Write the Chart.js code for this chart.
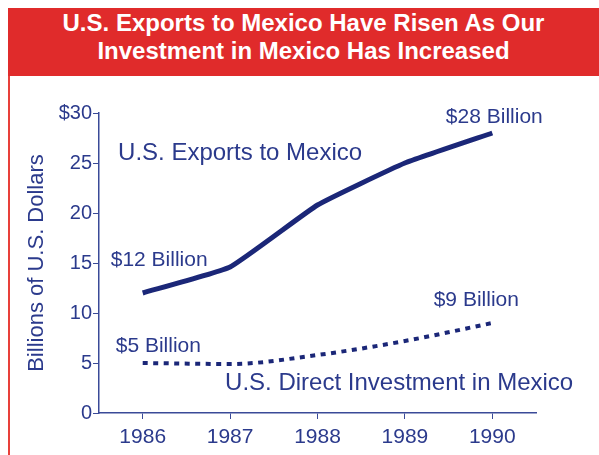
<!DOCTYPE html>
<html>
<head>
<meta charset="utf-8">
<script src="https://cdn.jsdelivr.net/npm/chart.js@4"></script>
<style>
    html, body { margin: 0; padding: 0; background: #ffffff; }
    #wrap { position: relative; width: 599px; height: 455px; overflow: hidden; }
    #header {
        position: absolute; left: 8px; top: 8px; width: 591px; height: 68px;
        background: #e02b2b; color: #ffffff;
        font-family: "Liberation Sans", Arial, sans-serif; font-weight: bold;
        font-size: 24px; line-height: 28px; text-align: center;
        padding-top: 1px; box-sizing: border-box;
    }
    #frame {
        position: absolute; left: 8px; top: 76px; width: 2px; height: 379px;
        background: #e8403a;
    }
    #chart { position: absolute; left: 0; top: 0; }
</style>
</head>
<body>
<div id="wrap">
    <div id="header">U.S. Exports to Mexico Have Risen As Our<br>Investment in Mexico Has Increased</div>
    <div id="frame"></div>
    <canvas id="chart" width="599" height="455"></canvas>
</div>
<script>
    // 年份與兩條資料線
    const years = ['1986', '1987', '1988', '1989', '1990'];
    const exportsToMexico = [12, 14.6, 20.8, 25, 28];
    const investmentInMexico = [5, 4.9, 5.8, 7.2, 9];
    const yTicks = [0, 5, 10, 15, 20, 25, 30];

    const navy = '#1b2778';
    const textNavy = '#2b3a8c';
    const font = '"Liberation Sans", Arial, sans-serif';

    // 圖上的文字標註：依資料點位置加上偏移
    const notes = [
        { text: '$12 Billion', series: 0, index: 0, dx: -32, dy: -33, align: 'left', size: 21 },
        { text: '$28 Billion', series: 0, index: 4, dx: 2, dy: -16, align: 'center', size: 21 },
        { text: '$5 Billion', series: 1, index: 0, dx: -27, dy: -17, align: 'left', size: 21 },
        { text: '$9 Billion', series: 1, index: 4, dx: -16, dy: -23, align: 'center', size: 21 },
        { text: 'U.S. Exports to Mexico', index: 1, value: 26, dx: 10, dy: 0, align: 'center', size: 24 },
        { text: 'U.S. Direct Investment in Mexico', index: 1, value: 3, dx: -5, dy: 0, align: 'left', size: 24 }
    ];

    const notePlugin = {
        id: 'notes',
        afterDatasetsDraw(chart) {
            const ctx = chart.ctx;
            const xs = chart.scales.x;
            const ys = chart.scales.y;
            ctx.save();
            ctx.fillStyle = textNavy;
            ctx.textBaseline = 'middle';
            notes.forEach(n => {
                const v = n.series === undefined ? n.value : chart.data.datasets[n.series].data[n.index];
                ctx.font = n.size + 'px ' + font;
                ctx.textAlign = n.align;
                ctx.fillText(n.text, xs.getPixelForValue(n.index) + n.dx, ys.getPixelForValue(v) + n.dy);
            });
            ctx.restore();
        }
    };

    const ctx = document.getElementById('chart').getContext('2d');
    const chart = new Chart(ctx, {
        type: 'line',
        data: {
            labels: years,
            datasets: [
                {
                    label: 'U.S. Exports to Mexico',
                    data: exportsToMexico,
                    borderColor: navy,
                    borderWidth: 5,
                    pointRadius: 0,
                    tension: 0.12
                },
                {
                    label: 'U.S. Direct Investment in Mexico',
                    data: investmentInMexico,
                    borderColor: navy,
                    borderWidth: 4,
                    borderDash: [5, 5.5],
                    borderCapStyle: 'butt',
                    pointRadius: 0,
                    cubicInterpolationMode: 'monotone'
                }
            ]
        },
        options: {
            responsive: false,
            animation: false,
            layout: { padding: { top: 113, right: 63, left: 0, bottom: 0 } },
            plugins: {
                legend: { display: false },
                tooltip: { enabled: false }
            },
            scales: {
                x: {
                    offset: true,
                    afterFit(scale) { scale.height = 42; },
                    border: { display: true, color: '#3a4a98', width: 1.5 },
                    grid: { drawOnChartArea: false, drawTicks: true, tickLength: 6, color: '#3a4a98', offset: false },
                    ticks: { color: textNavy, font: { family: font, size: 21 }, padding: 6 }
                },
                y: {
                    min: 0,
                    max: 30,
                    afterFit(scale) { scale.width = 99; },
                    afterBuildTicks(scale) { scale.ticks = yTicks.map(v => ({ value: v })); },
                    border: { display: true, color: '#3a4a98', width: 1.5 },
                    grid: { drawOnChartArea: false, drawTicks: true, tickLength: 6, color: '#3a4a98' },
                    ticks: {
                        color: textNavy,
                        font: { family: font, size: 20 },
                        padding: 1,
                        callback: v => (v === 30 ? '$30' : v)
                    },
                    title: {
                        display: true,
                        text: 'Billions of U.S. Dollars',
                        color: textNavy,
                        font: { family: font, size: 22 },
                        padding: { top: 24, bottom: 0 }
                    }
                }
            }
        },
        plugins: [notePlugin]
    });
</script>
</body>
</html>
